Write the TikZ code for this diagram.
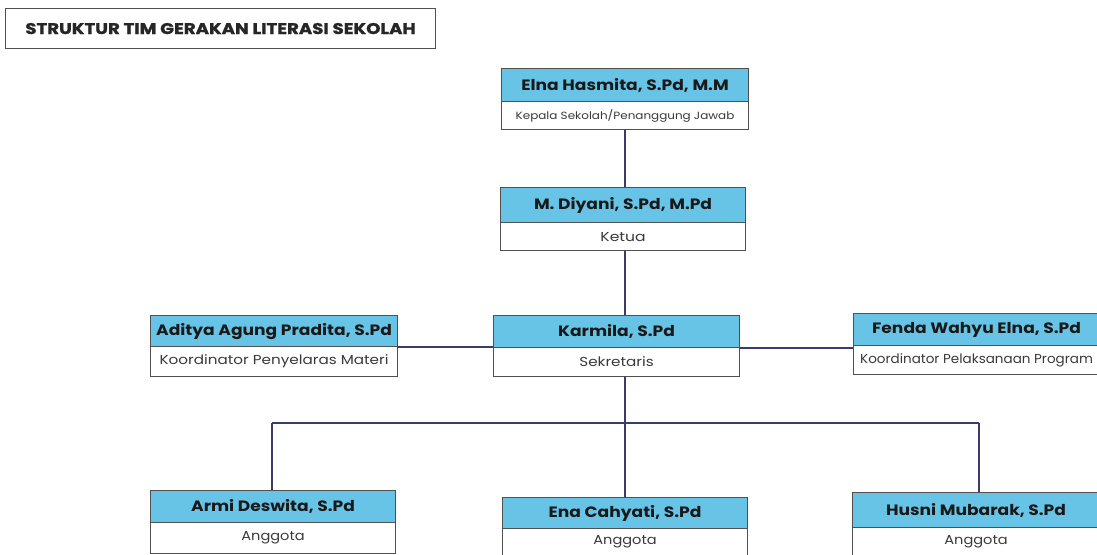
\documentclass[tikz,border=0pt]{standalone}
\usepackage{fontspec}
\setmainfont{Poppins}
\newfontfamily\heavyfont{Poppins}[UprightFont=*-Bold, FakeBold=1.2]
\definecolor{namefill}{HTML}{68C4E6}
\definecolor{boxline}{HTML}{505050}
\definecolor{conn}{HTML}{3A3C6C}
\definecolor{roletext}{HTML}{3A3A3A}
\newcommand{\wide}[2]{\scalebox{#1}[1]{#2}}
\tikzset{
  box/.style={draw=boxline, line width=1.1pt, inner sep=0pt, anchor=north west},
  namebox/.style={box, fill=namefill, font=\bfseries\fontsize{15}{17}\selectfont, text=black!90},
  rolebox/.style={box, fill=white, font=\fontsize{13}{15}\selectfont, text=roletext},
  smallrole/.style={rolebox, font=\fontsize{10.5}{12}\selectfont},
  titlebox/.style={box, fill=white, font=\heavyfont\fontsize{15.5}{17}\selectfont, text=black!85},
  link/.style={draw=conn, line width=2.4pt}
}
\begin{document}
\begin{tikzpicture}[x=1pt, y=-1pt]
\useasboundingbox[fill=white] (0,0) rectangle (1097,554);
% title
\node[titlebox, minimum width=430pt, minimum height=40pt] (title) at (5,8) {\wide{1.17}{STRUKTUR TIM GERAKAN LITERASI SEKOLAH}};
% people
\node[namebox, minimum width=247pt, minimum height=33pt] (elna) at (501,68) {\wide{1.14}{Elna Hasmita, S.Pd, M.M}};
\node[smallrole, minimum width=247pt, minimum height=28pt] (elnaR) at (501,101) {\raisebox{1pt}{\wide{1.14}{Kepala Sekolah/Penanggung Jawab}}};
\node[namebox, minimum width=245pt, minimum height=35pt] (diyani) at (500,187) {\wide{1.14}{M. Diyani, S.Pd, M.Pd}};
\node[rolebox, minimum width=245pt, minimum height=28pt] (diyaniR) at (500,222) {\wide{1.2}{Ketua}};
\node[namebox, minimum width=246pt, minimum height=32pt] (karmila) at (493,315) {\wide{1.14}{Karmila, S.Pd}};
\node[rolebox, minimum width=246pt, minimum height=29pt] (karmilaR) at (493,347) {\wide{1.17}{Sekretaris}};
\node[namebox, minimum width=247pt, minimum height=31pt] (aditya) at (150,315) {\wide{1.14}{Aditya Agung Pradita, S.Pd}};
\node[rolebox, minimum width=247pt, minimum height=30pt] (adityaR) at (150,346) {\wide{1.17}{Koordinator Penyelaras Materi}};
\node[namebox, minimum width=246pt, minimum height=32pt] (fenda) at (853,313) {\wide{1.14}{Fenda Wahyu Elna, S.Pd}};
\node[rolebox, minimum width=246pt, minimum height=29pt] (fendaR) at (853,345) {\wide{1.04}{Koordinator Pelaksanaan Program}};
\node[namebox, minimum width=245pt, minimum height=32pt] (armi) at (150,490) {\wide{1.14}{Armi Deswita, S.Pd}};
\node[rolebox, minimum width=245pt, minimum height=31pt] (armiR) at (150,522) {\wide{1.12}{Anggota}};
\node[namebox, minimum width=245pt, minimum height=31pt] (ena) at (502,497) {\wide{1.14}{Ena Cahyati, S.Pd}};
\node[rolebox, minimum width=245pt, minimum height=27pt] (enaR) at (502,528) {\wide{1.12}{Anggota}};
\node[namebox, minimum width=247pt, minimum height=35pt] (husni) at (852,492) {\wide{1.14}{Husni Mubarak, S.Pd}};
\node[rolebox, minimum width=247pt, minimum height=28pt] (husniR) at (852,527) {\wide{1.12}{Anggota}};
% connectors
\draw[link] (elnaR.south) -- (elnaR.south |- diyani.north);
\draw[link] (diyaniR.south -| elnaR.south) -- (elnaR.south |- karmila.north);
\draw[link] (aditya.south east) -- (aditya.south east -| karmila.west);
\draw[link] (karmila.south east) -- (karmila.south east -| fenda.west);
\coordinate (hub) at ([yshift=-46pt]karmilaR.south -| ena.north);
\draw[link] (karmilaR.south -| ena.north) -- (hub);
\coordinate (armiTop) at ([xshift=-1pt]armi.north);
\coordinate (husniTop) at ([xshift=3pt]husni.north);
\draw[link] (hub -| armiTop) -- (hub -| husniTop);
\draw[link] (hub -| armiTop) -- (armiTop);
\draw[link] (hub) -- (ena.north);
\draw[link] (hub -| husniTop) -- (husniTop);
\end{tikzpicture}
\end{document}
